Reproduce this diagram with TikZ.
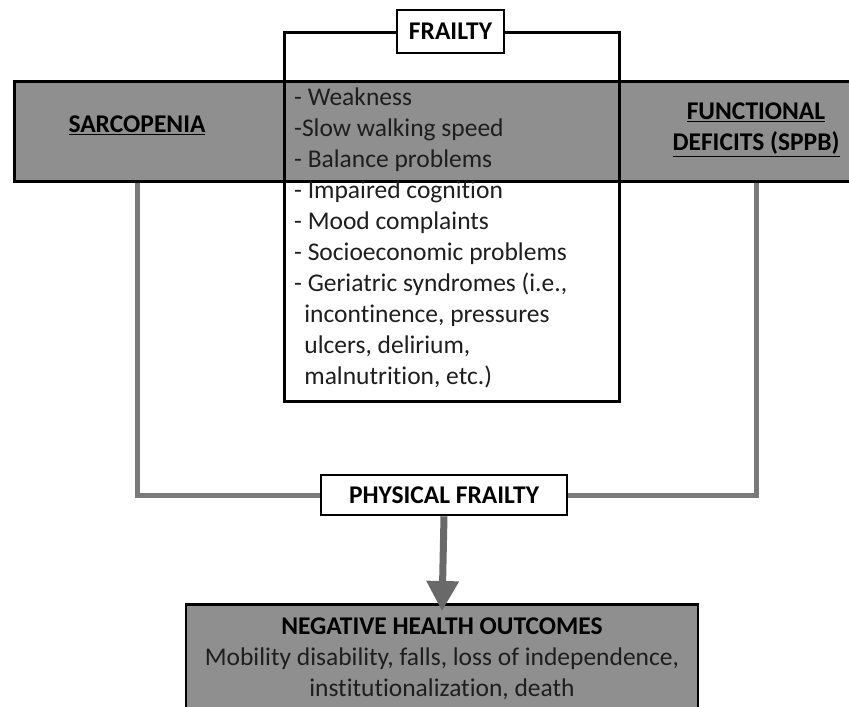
\documentclass[tikz,border=0pt]{standalone}
\usepackage{fontspec}
\setmainfont{Carlito}[Ligatures=NoCommon]
\usetikzlibrary{arrows.meta}
\definecolor{bandgray}{RGB}{143,143,143}
\definecolor{linegray}{RGB}{122,122,122}
\definecolor{arrowgray}{RGB}{105,105,105}
\definecolor{txt}{RGB}{30,30,30}
\begin{document}
\begin{tikzpicture}[x=1pt,y=-1pt,
  blackbox/.style={draw=black, line width=2.6pt, inner sep=0pt},
  lbl/.style={font=\fontsize{25.5}{31}\selectfont\bfseries, text=black},
  body/.style={font=\fontsize{25.5}{31}\selectfont, text=txt},
  conn/.style={draw=linegray, line width=5pt, line join=miter},
  arr/.style={draw=arrowgray, fill=arrowgray, line width=7pt, -{Triangle[width=31pt,length=30pt]}}
]
\useasboundingbox (0,0) rectangle (849,707);
% gray band
\node[blackbox, fill=bandgray, minimum width=842pt, minimum height=100pt, anchor=north west] (band) at (13,80) {};
% frailty outline
\node[blackbox, minimum width=335pt, minimum height=369pt, anchor=north west] (fbox) at (283,31) {};
\node[blackbox, lbl, fill=white, minimum width=107pt, minimum height=43pt] (frailty) at (450.5,31.5) {FRAILTY};
% labels in band
\node[lbl] (sarc) at (137,125) {\underline{SARCOPENIA}};
\node[lbl, align=center] (func) at (756,130) {\underline{FUNCTIONAL}\\\underline{DEFICITS (SPPB)}};
% list
\node[body, anchor=north west, inner sep=0pt, align=left] (list) at (294,88)
 {- Weakness\\-Slow walking speed\\- Balance problems\\- Impaired cognition\\- Mood complaints\\- Socioeconomic problems\\- Geriatric syndromes (i.e.,\\\hspace*{0.4em}incontinence, pressures\\\hspace*{0.4em}ulcers, delirium,\\\hspace*{0.4em}malnutrition, etc.)};
% physical frailty
\node[blackbox, lbl, fill=white, minimum width=246pt, minimum height=40pt] (phys) at (444,495) {PHYSICAL FRAILTY};
% negative outcomes
\node[blackbox, fill=bandgray, minimum width=512pt, minimum height=115pt, anchor=north] (neg) at (442,603) {};
\node[body, align=center] (negtxt) at (442,658.5)
 {\textbf{\color{black}NEGATIVE HEALTH OUTCOMES}\\Mobility disability, falls, loss of independence,\\institutionalization, death};
% connectors
\draw[conn] (sarc |- band.south) |- (phys.west);
\draw[conn] (func |- band.south) |- (phys.east);
\draw[arr] (phys.south) -- ([yshift=-8pt]neg.north);
\end{tikzpicture}
\end{document}
